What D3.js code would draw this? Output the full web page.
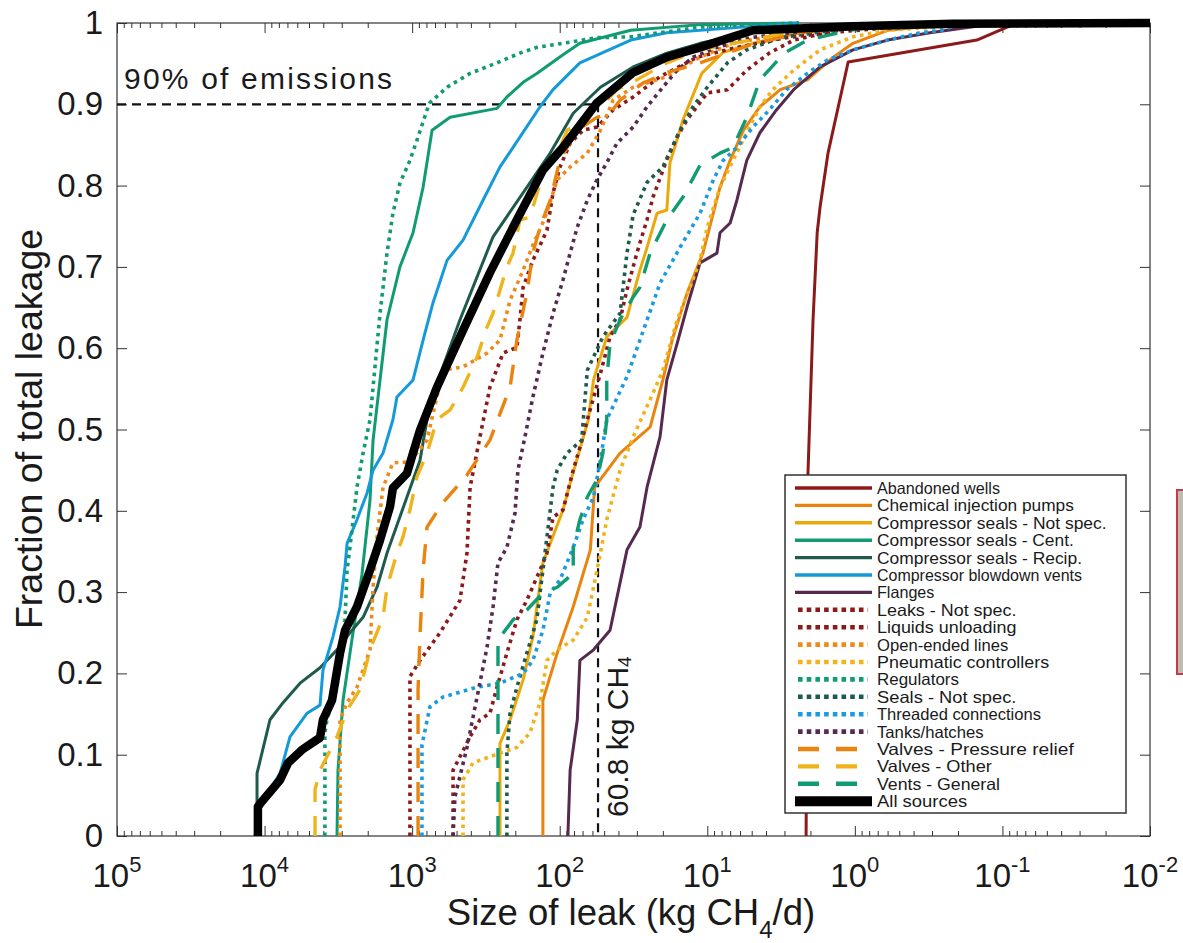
<!DOCTYPE html>
<html>
<head>
<meta charset="utf-8">
<script src="https://cdn.jsdelivr.net/npm/d3@7"></script>
<style>
  body { margin: 0; background: #fff; }
  text { font-family: "Liberation Sans", Arial, Helvetica, sans-serif; fill: #1a1a1a; }
</style>
</head>
<body>
<svg id="chart" width="1183" height="943"></svg>
<script>
// Cumulative fraction of total leakage vs leak size, [kg CH4/d, fraction]
var seriesNames = [
  "Abandoned wells", "Chemical injection pumps", "Compressor seals - Not spec.",
  "Compressor seals - Cent.", "Compressor seals - Recip.", "Compressor blowdown vents",
  "Flanges", "Leaks - Not spec.", "Liquids unloading", "Open-ended lines",
  "Pneumatic controllers", "Regulators", "Seals - Not spec.", "Threaded connections",
  "Tanks/hatches", "Valves - Pressure relief", "Valves - Other", "Vents - General",
  "All sources"
];

var abandonedWells = [[2.14,0],[2.08,0.444],[1.92,0.635],[1.80,0.742],[1.72,0.774],[1.52,0.840],[1.11,0.952],[0.149,0.979],[0.093,0.995],[0.076,1]];
var chemicalInjectionPumps = [[130,0],[130,0.167],[104,0.225],[81,0.282],[62,0.352],[58,0.429],[39,0.471],[24.4,0.503],[20,0.561],[17.3,0.610],[13.7,0.668],[10.7,0.717],[8.2,0.798],[7.0,0.831],[5.7,0.868],[4.4,0.897],[3.2,0.918],[2.1,0.930],[1.4,0.958],[1.03,0.975],[0.6,0.991],[0.28,0.997],[0.1,1]];
var compSealsNotSpec = [[254,0],[254,0.114],[217,0.143],[177,0.192],[152,0.245],[130,0.336],[95,0.401],[85,0.434],[64,0.512],[59,0.561],[48,0.614],[35,0.638],[28.6,0.696],[25.6,0.724],[21.9,0.766],[18.8,0.770],[17.9,0.828],[14.6,0.881],[10.9,0.938],[7.8,0.964],[4.9,0.975],[2.35,0.988],[1.08,0.998],[0.5,1]];
var compSealsCent = [[3230,0],[3180,0.081],[2940,0.167],[2560,0.241],[2190,0.321],[1930,0.413],[1840,0.487],[1480,0.635],[1210,0.700],[986,0.742],[843,0.798],[733,0.868],[553,0.884],[266,0.895],[228,0.909],[177,0.927],[143,0.938],[95,0.961],[73,0.975],[33,0.991],[11.2,0.998],[2.4,1]];
var compSealsRecip = [[11250,0],[11250,0.077],[9190,0.143],[7500,0.164],[5750,0.188],[4210,0.207],[3230,0.229],[2640,0.250],[2150,0.269],[1730,0.306],[1480,0.348],[1084,0.417],[885,0.462],[793,0.512],[647,0.567],[474,0.635],[283,0.737],[116,0.840],[81,0.889],[53,0.921],[31.8,0.946],[18.8,0.963],[11.2,0.975],[5.1,0.988],[1.08,0.995],[0.23,1]];
var blowdownVents = [[11100,0],[11100,0.020],[10250,0.044],[7850,0.077],[6730,0.122],[5150,0.151],[4210,0.161],[4020,0.204],[3440,0.245],[3080,0.282],[2850,0.331],[2760,0.360],[2365,0.389],[2020,0.422],[1840,0.450],[1575,0.471],[1350,0.512],[1267,0.540],[986,0.561],[843,0.610],[722,0.656],[580,0.708],[452,0.733],[331,0.782],[254,0.823],[207,0.847],[136,0.897],[111,0.918],[73,0.951],[33,0.979],[18.8,0.988],[6.7,0.994],[2.4,1]];
var flanges = [[88,0],[85,0.081],[76,0.143],[73,0.216],[59,0.229],[45.6,0.253],[35,0.352],[28.6,0.380],[25.6,0.429],[20.9,0.491],[18.8,0.561],[16.0,0.606],[13.7,0.651],[11.2,0.705],[8.6,0.717],[8.2,0.742],[7.0,0.754],[6.3,0.782],[5.4,0.831],[4.4,0.865],[3.4,0.893],[2.6,0.918],[1.72,0.946],[1.03,0.967],[0.6,0.979],[0.31,0.988],[0.104,1]];
var leaksNotSpec = [[528,0],[528,0.081],[405,0.122],[347,0.143],[297,0.151],[266,0.183],[228,0.225],[195,0.266],[167,0.290],[136,0.327],[122,0.348],[111,0.392],[95,0.401],[81,0.450],[73,0.478],[65,0.512],[53,0.569],[45.6,0.614],[39,0.635],[35,0.672],[30,0.717],[25.6,0.758],[23.3,0.786],[18.8,0.832],[16.0,0.860],[13.7,0.881],[10,0.914],[7.3,0.918],[5.4,0.942],[3.8,0.963],[2.6,0.979],[1.08,0.994],[0.23,1]];
var liquidsUnloading = [[1035,0],[1035,0.196],[885,0.216],[647,0.250],[474,0.290],[425,0.348],[405,0.429],[347,0.491],[297,0.552],[242,0.594],[195,0.601],[186,0.635],[177,0.675],[152,0.708],[122,0.745],[111,0.791],[99.5,0.823],[85,0.852],[69.5,0.868],[55.8,0.872],[43.5,0.893],[31.8,0.909],[20.9,0.934],[11.7,0.958],[6.3,0.970],[2.9,0.982],[1.32,0.989],[0.6,0.994],[0.23,1]];
var openEndedLines = [[3080,0],[3080,0.143],[2760,0.164],[2365,0.183],[1930,0.229],[1840,0.306],[1730,0.368],[1575,0.429],[1350,0.459],[1035,0.460],[793,0.487],[618,0.573],[452,0.577],[311,0.594],[254,0.610],[217,0.659],[177,0.696],[152,0.727],[126,0.760],[104,0.807],[85,0.823],[65,0.840],[53,0.868],[43.5,0.905],[31.8,0.921],[18.8,0.934],[11.2,0.958],[6.7,0.975],[3.9,0.983],[1.08,0.995],[0.23,1]];
var pneumaticControllers = [[452,0],[452,0.069],[387,0.090],[254,0.102],[195,0.109],[159,0.127],[136,0.164],[122,0.216],[104,0.229],[81,0.241],[65,0.269],[59,0.306],[53,0.348],[48,0.389],[39,0.450],[31.8,0.491],[23.3,0.545],[20,0.573],[16.0,0.635],[13.1,0.675],[11.2,0.708],[10,0.749],[8.2,0.798],[6.7,0.831],[5.4,0.865],[4.4,0.897],[3.6,0.918],[2.6,0.942],[1.72,0.967],[1.03,0.983],[0.6,0.991],[0.28,0.995],[0.1,1]];
var regulators = [[3900,0],[3900,0.127],[3780,0.143],[3230,0.183],[2850,0.266],[2760,0.327],[2640,0.355],[2365,0.429],[2150,0.471],[1930,0.512],[1840,0.552],[1650,0.643],[1480,0.717],[1350,0.766],[1210,0.803],[1035,0.831],[927,0.856],[793,0.893],[757,0.902],[580,0.921],[405,0.938],[266,0.951],[186,0.963],[143,0.970],[95,0.975],[56,0.982],[33,0.983],[11.2,0.995],[2.4,1]];
var sealsNotSpec = [[228,0],[228,0.102],[217,0.151],[195,0.183],[167,0.225],[143,0.266],[130,0.327],[122,0.368],[111,0.429],[104,0.450],[89,0.471],[71,0.487],[65,0.573],[51,0.614],[39,0.643],[35,0.717],[31.8,0.764],[25.6,0.804],[20,0.823],[15.3,0.868],[12.5,0.897],[10,0.921],[7.3,0.951],[5.4,0.967],[3.2,0.982],[1.72,0.989],[0.5,1]];
var threadedConnections = [[858,0],[858,0.112],[757,0.159],[618,0.171],[363,0.183],[254,0.188],[177,0.200],[152,0.216],[130,0.253],[116,0.299],[99.5,0.315],[81,0.355],[69.5,0.389],[59,0.417],[53,0.462],[48,0.512],[35,0.565],[28.6,0.610],[20.9,0.680],[15.3,0.724],[11.2,0.766],[9.1,0.807],[7.8,0.831],[6.3,0.847],[4.9,0.872],[3.8,0.893],[2.9,0.918],[2.1,0.938],[1.55,0.954],[1.03,0.967],[0.6,0.979],[0.36,0.988],[0.26,0.991],[0.19,1]];
var tanksHatches = [[528,0],[513,0.048],[425,0.109],[363,0.171],[311,0.232],[283,0.282],[262,0.336],[228,0.355],[201,0.397],[192,0.450],[172,0.491],[152,0.540],[130,0.594],[111,0.643],[95,0.684],[85,0.717],[76,0.749],[65,0.782],[56,0.807],[48,0.828],[41,0.852],[31.8,0.872],[25.6,0.897],[20,0.921],[16.0,0.942],[12.5,0.958],[8.6,0.970],[5.1,0.982],[2.4,0.989],[0.68,0.998],[0.23,1]];
var valvesPressureRelief = [[912,0],[912,0.180],[885,0.245],[843,0.327],[793,0.380],[618,0.410],[425,0.444],[297,0.487],[217,0.552],[195,0.610],[167,0.668],[152,0.717],[136,0.749],[116,0.782],[99.5,0.832],[76,0.868],[56,0.884],[45.6,0.889],[39,0.905],[27.3,0.926],[18.8,0.939],[11.2,0.951],[5.1,0.973],[2.4,0.988],[1.08,0.998],[0.5,1]];
var valvesOther = [[4550,0],[4550,0.057],[4210,0.081],[3230,0.122],[2760,0.155],[2255,0.180],[1930,0.229],[1575,0.269],[1480,0.306],[1267,0.348],[1153,0.368],[1035,0.401],[927,0.442],[793,0.471],[679,0.512],[553,0.524],[452,0.552],[363,0.589],[311,0.626],[283,0.643],[228,0.700],[207,0.717],[186,0.758],[159,0.761],[136,0.803],[122,0.828],[99.5,0.847],[89,0.868],[73,0.877],[59,0.897],[48,0.905],[41,0.918],[33,0.926],[18.8,0.951],[11.2,0.967],[5.1,0.979],[2.4,0.991],[0.79,0.999],[0.23,1]];
var ventsGeneral = [[262,0],[262,0.118],[262,0.241],[207,0.266],[167,0.278],[130,0.299],[104,0.306],[81,0.323],[81,0.355],[73,0.389],[65,0.417],[56,0.438],[51,0.471],[48,0.512],[48,0.561],[45.6,0.606],[39,0.635],[31.8,0.663],[28.6,0.675],[24.4,0.717],[18.8,0.758],[14.6,0.786],[11.2,0.825],[8.2,0.840],[6.7,0.847],[5.4,0.884],[4.4,0.930],[3.0,0.963],[2.1,0.979],[1.08,0.991],[0.5,1]];
var allSources = [[11100,0],[11100,0.036],[10250,0.044],[7850,0.069],[6930,0.090],[5575,0.106],[4210,0.121],[4020,0.143],[3490,0.167],[3080,0.225],[2850,0.253],[2365,0.282],[1930,0.327],[1650,0.364],[1413,0.405],[1350,0.428],[1084,0.446],[986,0.471],[885,0.499],[679,0.552],[452,0.622],[297,0.693],[195,0.758],[130,0.819],[95,0.847],[55.8,0.902],[31.8,0.939],[18.8,0.958],[11.2,0.970],[4.9,0.991],[1.03,0.996],[0.216,0.999],[0.01,1]];

var seriesValues = [
  abandonedWells, chemicalInjectionPumps, compSealsNotSpec, compSealsCent, compSealsRecip,
  blowdownVents, flanges, leaksNotSpec, liquidsUnloading, openEndedLines, pneumaticControllers,
  regulators, sealsNotSpec, threadedConnections, tanksHatches, valvesPressureRelief,
  valvesOther, ventsGeneral, allSources
];

// styles
var seriesColors = [
  "#8c1a1a", "#ea840e", "#eaa90a", "#109b73", "#1f5b4d", "#149ad9", "#56294f",
  "#8c1a1a", "#8c1a1a", "#ef8a1a", "#efb41c", "#109b73", "#1f5b4d", "#1a9be0",
  "#56294f", "#ea840e", "#efb41c", "#109b73", "#000000"
];
var seriesKinds = [
  "solid", "solid", "solid", "solid", "solid", "solid", "solid",
  "dot", "dot", "dot", "dot", "dot", "dot", "dot", "dot",
  "dash", "dash", "dash", "thick"
];

var xTickExps = [5, 4, 3, 2, 1, 0, -1, -2];
var yTicks = [0, 0.1, 0.2, 0.3, 0.4, 0.5, 0.6, 0.7, 0.8, 0.9, 1];
var emissionShare = 0.9;
var cutoffLine = 55;

var svg = d3.select("#chart"),
  margin = {top: 23, right: 33, bottom: 107, left: 117},
  width = 1183 - margin.left - margin.right,
  height = 943 - margin.top - margin.bottom;

var g = svg.append("g").attr("transform", "translate(" + margin.left + "," + margin.top + ")");

var x = d3.scaleLog().domain([1e5, 1e-2]).range([0, width]);
var y = d3.scaleLinear().domain([0, 1]).range([height, 0]);

// minor ticks 2..9 in every decade
var minorTicks = [];
for (var e = -2; e < 5; e++) {
  for (var m = 2; m < 10; m++) minorTicks.push(m * Math.pow(10, e));
}
var majorTicks = xTickExps.map(function (d) { return Math.pow(10, d); });

function styleAxis(sel) {
  sel.select(".domain").remove();
  sel.selectAll(".tick line").attr("stroke", "#333").attr("stroke-width", 1);
}

g.append("g").attr("transform", "translate(0," + height + ")")
  .call(d3.axisBottom(x).tickValues(minorTicks).tickSize(-5).tickFormat("")).call(styleAxis);
g.append("g").attr("transform", "translate(0," + height + ")")
  .call(d3.axisBottom(x).tickValues(majorTicks).tickSize(-10).tickFormat("")).call(styleAxis);
g.append("g")
  .call(d3.axisTop(x).tickValues(minorTicks).tickSize(-5).tickFormat("")).call(styleAxis);
g.append("g")
  .call(d3.axisTop(x).tickValues(majorTicks).tickSize(-10).tickFormat("")).call(styleAxis);

var yAxis = g.append("g")
  .call(d3.axisLeft(y).tickValues(yTicks).tickSize(-10).tickPadding(14).tickFormat(d3.format(".1~f")))
  .call(styleAxis);
yAxis.selectAll("text").attr("font-size", 33).attr("fill", "#1a1a1a")
  .style("font-family", "'Liberation Sans', Arial, sans-serif");
g.append("g").attr("transform", "translate(" + width + ",0)")
  .call(d3.axisRight(y).tickValues(yTicks).tickSize(-10).tickFormat("")).call(styleAxis);

// x tick labels 10^n
g.selectAll(".xlab").data(xTickExps).join("text")
  .attr("class", "xlab")
  .attr("x", function (d) { return x(Math.pow(10, d)); })
  .attr("y", height + 51)
  .attr("text-anchor", "middle")
  .attr("font-size", 33)
  .each(function (d) {
    var t = d3.select(this);
    t.append("tspan").text("10");
    t.append("tspan").attr("dy", -15).attr("font-size", 22).text(d);
  });

// frame
g.append("rect").attr("width", width).attr("height", height)
  .attr("fill", "none").attr("stroke", "#333").attr("stroke-width", 1.2);

// reference lines
g.append("path")
  .attr("d", "M" + x(1e5) + "," + y(emissionShare) + "H" + x(cutoffLine) + "V" + y(0))
  .attr("fill", "none").attr("stroke", "#111").attr("stroke-width", 2.2)
  .attr("stroke-dasharray", "9,6");

// curves
var line = d3.line().x(function (d) { return x(d[0]); }).y(function (d) { return y(d[1]); });

function applyStyle(sel, i, legendMode) {
  var kind = seriesKinds[i];
  sel.attr("fill", "none").attr("stroke", seriesColors[i]).attr("stroke-linejoin", "round");
  if (kind === "solid") sel.attr("stroke-width", legendMode ? 3.4 : 3);
  if (kind === "thick") sel.attr("stroke-width", legendMode ? 10 : 8.5);
  if (kind === "dot") sel.attr("stroke-width", legendMode ? 4.6 : 3.6)
    .attr("stroke-dasharray", legendMode ? "4.6,4.1" : "3.6,4.4");
  if (kind === "dash") sel.attr("stroke-width", legendMode ? 4.4 : 3.4)
    .attr("stroke-dasharray", legendMode ? "21,17" : "20,14");
}

seriesValues.forEach(function (vals, i) {
  g.append("path").datum(vals).attr("d", line).call(applyStyle, i, false);
});

// annotations
g.append("text").attr("x", 7).attr("y", 66).attr("font-size", 30)
  .attr("textLength", 268).attr("lengthAdjust", "spacing")
  .text("90% of emissions");

var lab = g.append("text")
  .attr("transform", "translate(" + (x(cutoffLine) + 30) + "," + (height - 19) + ") rotate(-90)")
  .attr("font-size", 30);
lab.append("tspan").text("60.8 kg CH");
lab.append("tspan").attr("font-size", 19).attr("dy", 3).text("4");

// axis titles
svg.append("text")
  .attr("transform", "translate(42,429) rotate(-90)")
  .attr("text-anchor", "middle").attr("font-size", 37.5)
  .text("Fraction of total leakage");

var xt = svg.append("text").attr("x", 631).attr("y", 925)
  .attr("text-anchor", "middle").attr("font-size", 36.5);
xt.append("tspan").text("Size of leak (kg CH");
xt.append("tspan").attr("font-size", 24).attr("dy", 13).text("4");
xt.append("tspan").attr("dy", -13).text("/d)");

// legend
var legend = svg.append("g");
legend.append("rect").attr("x", 785).attr("y", 475).attr("width", 341).attr("height", 338)
  .attr("fill", "#fff").attr("stroke", "#333").attr("stroke-width", 1.5);

seriesNames.forEach(function (name, i) {
  var ry = 488 + i * 17.4;
  var kind = seriesKinds[i];
  var x0 = kind === "dot" || kind === "dash" ? 798 : 795;
  var x1 = kind === "dot" ? 868 : kind === "dash" ? 857 : 872;
  legend.append("line").attr("x1", x0).attr("x2", x1).attr("y1", ry).attr("y2", ry)
    .call(applyStyle, i, true);
  legend.append("text").attr("x", 877).attr("y", ry + 6).attr("font-size", 16.5)
    .attr("textLength", name.length * 8.2).attr("lengthAdjust", "spacingAndGlyphs")
    .text(name);
});

// partly visible neighbour panel at the right edge
svg.append("rect").attr("x", 1177).attr("y", 490).attr("width", 30).attr("height", 184)
  .attr("fill", "#bdbdb4").attr("stroke", "#c63a4a").attr("stroke-width", 2);
</script>
</body>
</html>
